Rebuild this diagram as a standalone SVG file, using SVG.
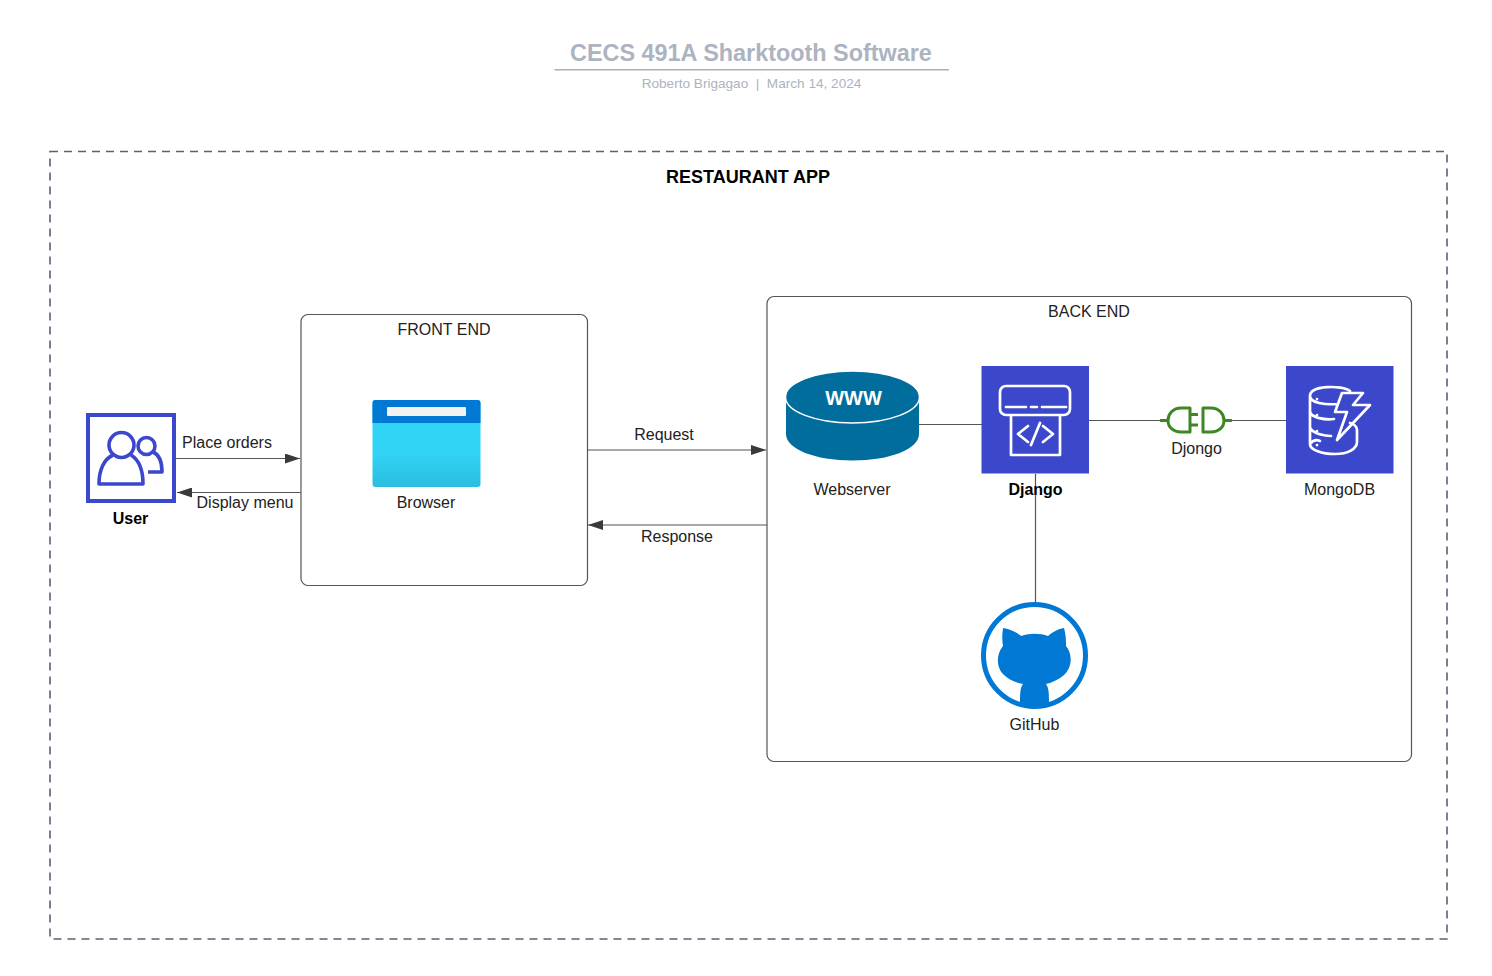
<svg xmlns="http://www.w3.org/2000/svg" width="1492" height="976" viewBox="0 0 1492 976">
<defs>
<style>
text{font-family:"Liberation Sans",Arial,sans-serif;fill:#222;font-size:16px;text-anchor:middle;white-space:pre}
.b{font-weight:700;fill:#000}
.box{fill:#fff;stroke:#555;stroke-width:1.2}
.c{fill:none;stroke:#555;stroke-width:1.2}
.w{fill:none;stroke:#fff;stroke-width:2.700;stroke-linecap:round;stroke-linejoin:round}
.u{fill:none;stroke:#3b48cc;stroke-width:3.600;stroke-linejoin:round}
.p{fill:none;stroke:#3f8624;stroke-width:3;stroke-linejoin:round}
</style>
<marker id="a" markerUnits="userSpaceOnUse" markerWidth="15" markerHeight="10" refX="15" refY="5" orient="auto-start-reverse"><path d="M0 0L15 5L0 10Z" fill="#3a3a3a"/></marker>
<linearGradient id="g" x1="0" y1="0" x2="0" y2="1"><stop offset="0" stop-color="#32d4f5"/><stop offset=".6" stop-color="#32d4f5"/><stop offset="1" stop-color="#2bbde0"/></linearGradient>
</defs>
<rect width="1492" height="976" fill="#fff"/>
<g id="title">
<text x="751" y="61" style="font-size:23.400px;font-weight:700;fill:#adb3bf">CECS 491A Sharktooth Software</text>
<path d="M554.500 69.800H949" stroke="#a9afbc" stroke-width="1.500"/>
<text x="751.500" y="88" style="font-size:13.600px;fill:#adb3bf">Roberto Brigagao  |  March 14, 2024</text>
</g>
<g id="restaurant-app">
<rect x="50" y="151.500" width="1397" height="787.500" fill="none" stroke="#5a6078" stroke-width="1.600" stroke-dasharray="8 6"/>
<text class="b" x="748" y="183" style="font-size:18px">RESTAURANT APP</text>
</g>
<g id="front-end">
<rect class="box" x="301" y="314.500" width="286.500" height="271" rx="7"/>
<text x="444" y="335">FRONT END</text>
</g>
<g id="back-end">
<rect class="box" x="767" y="296.500" width="644.500" height="465" rx="7"/>
<text x="1089" y="317">BACK END</text>
</g>
<g id="connectors">
<path class="c" d="M175 458.500H300" marker-end="url(#a)"/>
<path class="c" d="M301 492.500H177" marker-end="url(#a)"/>
<path class="c" d="M588 450H766" marker-end="url(#a)"/>
<path class="c" d="M767 525H588" marker-end="url(#a)"/>
<path class="c" d="M919 424.500H982"/>
<path class="c" d="M1089 420.500H1162"/>
<path class="c" d="M1231 420.500H1286"/>
<path class="c" d="M1035.500 474V603"/>
<text x="227" y="448">Place orders</text>
<text x="245" y="508">Display menu</text>
<text x="664" y="440">Request</text>
<text x="677" y="542">Response</text>
</g>
<g id="user">
<rect x="88" y="415" width="86" height="86" fill="#fff" stroke="#3b48cc" stroke-width="4"/>
<circle class="u" cx="121.500" cy="445" r="12.500"/>
<path class="u" d="M113 455C104 459 99 470 99 484H143C143 470 139 460 131 455"/>
<circle class="u" cx="146.500" cy="446" r="8.500"/>
<path class="u" d="M153 452C160 455 162 463 162 472H148"/>
<text class="b" x="130.500" y="524">User</text>
</g>
<g id="browser">
<rect x="372.500" y="400" width="108" height="87" rx="3" fill="url(#g)"/>
<path d="M372.500 423V403a3 3 0 0 1 3-3H477.500a3 3 0 0 1 3 3V423Z" fill="#0078d4"/>
<rect x="387" y="407" width="79" height="9" rx="1" fill="#f2f2f2"/>
<text x="426" y="508">Browser</text>
</g>
<g id="webserver">
<path d="M786 397V434C786 449 815 460.500 852.500 460.500C890 460.500 919 449 919 434V397Z" fill="#006d9c"/>
<ellipse cx="852.500" cy="397" rx="67" ry="26" fill="#006d9c" stroke="#fff" stroke-width="1.500"/>
<text x="853.500" y="405" style="font-size:20px;font-weight:700;fill:#fff">WWW</text>
<text x="852" y="495">Webserver</text>
</g>
<g id="django">
<rect x="981.500" y="366" width="107.500" height="107.500" fill="#3b48cc"/>
<path class="w" d="M1000 392a6 6 0 0 1 6-6H1064a6 6 0 0 1 6 6V409a6 6 0 0 1-6 6H1006a6 6 0 0 1-6-6ZM1011 415V455H1060V415M1006 407H1026M1031 407H1037M1042 407H1066M1028 426L1018 434L1028 442M1043 426L1053 434L1043 442M1040 423L1031 445"/>
<text class="b" x="1035.500" y="495">Django</text>
</g>
<g id="djongo">
<path class="p" d="M1160 420.500H1168M1190 408H1181C1173 408 1168 414 1168 420.500C1168 427 1173 432 1181 432H1190ZM1190 414.500H1198M1190 425H1198M1203 408V432H1211C1219 432 1224 427 1224 420.500C1224 414 1219 408 1211 408ZM1224 420.500H1232"/>
<text x="1196.500" y="454">Djongo</text>
</g>
<g id="mongodb">
<rect x="1286" y="366" width="107.500" height="107.500" fill="#3b48cc"/>
<path class="w" d="M1350 391C1342 385 1310 385 1310 396C1310 403 1325 405 1338 404M1310 396V444C1310 450 1322 454 1335 454C1348 454 1357 449 1357 442V430C1357 427 1354 424 1350 423M1310 412C1312 418 1325 420 1334 419M1310 428C1314 434 1325 436 1331 436M1310 444C1314 439 1318 440 1320 441M1342 393H1363L1353 405H1370L1337 440L1347 412H1335ZM1317 399V399.100M1317 415V415.100M1317 431V431.100M1317 445V445.100"/>
<text x="1339.500" y="495">MongoDB</text>
</g>
<g id="github">
<circle cx="1034.500" cy="655.500" r="51" fill="#fff" stroke="#0078d4" stroke-width="5"/>
<path d="M1003 628C1009 629 1017 632 1021 636C1030 633 1040 633 1048 636C1052 632 1058 629 1064 628C1066 635 1066 641 1066 646C1073 654 1072 668 1064 675C1058 680 1051 683 1046 684C1049 688 1049 694 1049 706C1040 709 1029 709 1020 706C1020 694 1020 688 1023 684C1017 683 1009 680 1004 675C996 668 996 654 1003 646C1002 641 1002 635 1003 628Z" fill="#0078d4"/>
<text x="1034.500" y="730">GitHub</text>
</g>
</svg>
